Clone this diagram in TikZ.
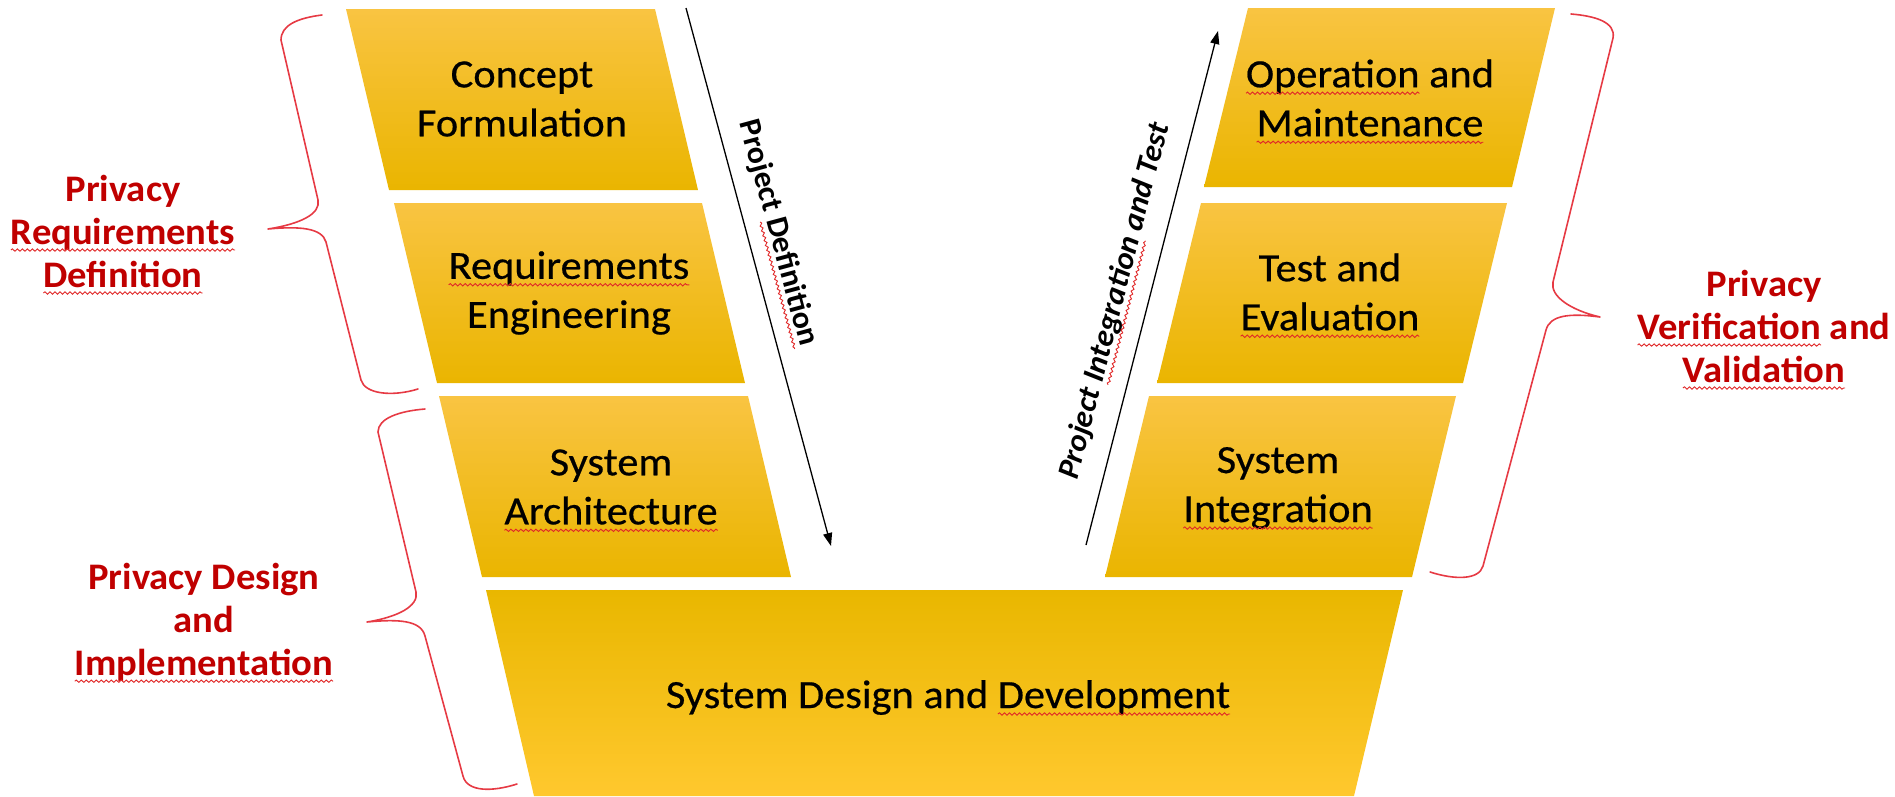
\documentclass[tikz,border=0pt]{standalone}
\usepackage{fontspec}
\setmainfont{Carlito}
\newfontfamily\boxfont{Carlito}[FakeStretch=1.06, FakeBold=0.5]
\newfontfamily\labelfont{Carlito}[FakeStretch=1.03]
\usetikzlibrary{arrows.meta,decorations.pathmorphing}
\definecolor{lblred}{HTML}{C00000}
\definecolor{brred}{HTML}{E63A44}
\definecolor{sqred}{HTML}{E02828}
\definecolor{boxtop}{HTML}{F9C442}
\definecolor{boxmid}{HTML}{FFC000}
\definecolor{boxbot}{HTML}{EAB500}
\definecolor{bigtop}{HTML}{E9B700}
\definecolor{bigmid}{HTML}{FFC000}
\definecolor{bigbot}{HTML}{FFC82E}
\newsavebox\sqbox
\newlength\sqw
\newcommand\sq[1]{\sbox\sqbox{#1}\setlength\sqw{\wd\sqbox}\leavevmode\rlap{\usebox\sqbox}\begin{tikzpicture}[baseline=0pt,x=1pt,y=1pt]\useasboundingbox (0,0) rectangle (\sqw,0.1);\draw[sqred, line width=0.9pt, decorate, decoration={snake,amplitude=1.2pt,segment length=5pt}] (0,-6) -- (\sqw,-6);\end{tikzpicture}}
\tikzset{
  boxshade/.style={top color=boxtop, middle color=boxmid, bottom color=boxbot},
  bigshade/.style={top color=bigtop, middle color=bigmid, bottom color=bigbot},
  boxtext/.style={align=center, text=black, inner sep=0pt, font=\boxfont\fontsize{40}{49}\selectfont},
  redlabel/.style={align=center, text=lblred, inner sep=0pt, font=\labelfont\fontsize{37.5}{43}\selectfont\bfseries},
  bracepath/.style={draw=brred, line width=1.6pt, line cap=round, line join=round},
  flowarrow/.style={draw=black, line width=1.3pt, -{Triangle[length=13pt,width=9pt]}},
  arrowlabel/.style={inner sep=0pt, font=\labelfont\fontsize{31}{36}\selectfont\bfseries}
}
\begin{document}
\begin{tikzpicture}[x=1pt,y=-1pt]
\useasboundingbox (0,0) rectangle (1895,796);

% left column
\shade[boxshade] (346,9) -- (655,9) -- (698,190) -- (389,190) -- cycle;
\node[boxtext] (concept) at (522,99) {Concept\\Formulation};
\shade[boxshade] (394,203) -- (702,203) -- (745,383) -- (437,383) -- cycle;
\node[boxtext] (reqeng) at (569,293) {\sq{Requirements}\\Engineering};
\shade[boxshade] (439,396) -- (748,396) -- (791,577) -- (482,577) -- cycle;
\node[boxtext] (sysarch) at (611,487) {System\\\sq{Architecture}};

% right column
\shade[boxshade] (1248,8) -- (1555,8) -- (1512,187) -- (1204,187) -- cycle;
\node[boxtext] (opmaint) at (1370,98) {\sq{Operation} and\\\sq{Maintenance}};
\shade[boxshade] (1201,203) -- (1507,203) -- (1463,383) -- (1157,383) -- cycle;
\node[boxtext] (testeval) at (1330,292) {Test and\\\sq{Evaluation}};
\shade[boxshade] (1149,396) -- (1456,396) -- (1412,577) -- (1105,577) -- cycle;
\node[boxtext] (sysint) at (1278,488) {System\\\sq{Integration}};

% bottom
\shade[bigshade] (486,590) -- (1403,590) -- (1354,796) -- (534,796) -- cycle;
\node[boxtext, anchor=base] (sysdev) at (948,708) {System Design and \sq{Development}};

% arrows
\coordinate (pdS) at (686,8);
\coordinate (pdE) at (831,546);
\draw[flowarrow] (pdS) -- (pdE);
\node[arrowlabel, rotate=-74.8] (pdlabel) at (778,233) {Project \sq{Definition}};
\coordinate (piS) at (1086,545);
\coordinate (piE) at (1218,31);
\draw[flowarrow] (piS) -- (piE);
\node[arrowlabel, rotate=75.5, font=\labelfont\fontsize{31}{36}\selectfont\bfseries\itshape] (pilabel) at (1115,301) {Project \sq{Integration} and Test};

% braces
\draw[bracepath] (322,15) .. controls (298,18) and (281,25) .. (281,40) -- (318,200)
  .. controls (321,214) and (300,224) .. (268,229)
  .. controls (300,226) and (322,228) .. (326,242) -- (361,380)
  .. controls (365,394) and (392,397) .. (418,389);
\draw[bracepath] (425,409) .. controls (400,411) and (378,418) .. (378,432) -- (416,592)
  .. controls (419,606) and (398,617) .. (367,622)
  .. controls (398,619) and (421,620) .. (425,636) -- (463,776)
  .. controls (467,792) and (492,792) .. (517,784);
\draw[bracepath] (1571,14) .. controls (1595,16) and (1616,22) .. (1613,38) -- (1553,282)
  .. controls (1550,296) and (1570,310) .. (1600,317)
  .. controls (1570,313) and (1550,315) .. (1546,330) -- (1483,566)
  .. controls (1479,580) and (1455,580) .. (1430,572);

% red labels
\node[redlabel] (prd) at (123,231) {Privacy\\\sq{Requirements}\\\sq{Definition}};
\node[redlabel] (pdi) at (204,622) {Privacy Design\\and\\\sq{Implementation}};
\node[redlabel] (pvv) at (1764,326) {Privacy\\\sq{Verification} and\\\sq{Validation}};
\end{tikzpicture}
\end{document}
